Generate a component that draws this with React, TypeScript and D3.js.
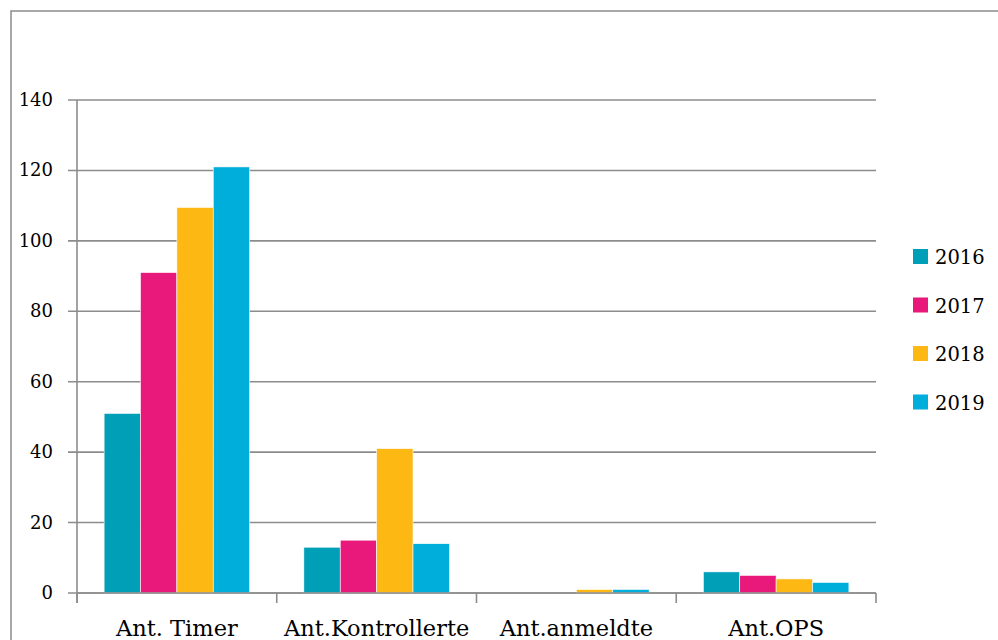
import React, { useEffect, useRef } from 'react';
import * as d3 from 'd3';

const categories = ['Ant. Timer', 'Ant.Kontrollerte', 'Ant.anmeldte', 'Ant.OPS'];
const years = ['2016', '2017', '2018', '2019'];
const values2016 = [51, 13, 0, 6];
const values2017 = [91, 15, 0, 5];
const values2018 = [109.5, 41, 1, 4];
const values2019 = [121, 14, 1, 3];
const colors = ['#009fb8', '#e8197a', '#fdb813', '#00aedb'];
const yTicks = [0, 20, 40, 60, 80, 100, 120, 140];

export default function App() {
  const svgRef = useRef<SVGSVGElement>(null);

  useEffect(() => {
    if (!svgRef.current) return;
    const svg = d3.select(svgRef.current);
    svg.selectAll('*').remove();

    const series = [values2016, values2017, values2018, values2019];
    const font = "'DejaVu Serif', 'Liberation Serif', serif";

    const left = 77, right = 876, top = 100, bottom = 593;

    svg.append('rect')
      .attr('x', 11).attr('y', 11).attr('width', 1000).attr('height', 700)
      .attr('fill', 'white').attr('stroke', '#8c8c8c').attr('stroke-width', 1.5);

    const x = d3.scaleBand().domain(categories).range([left, right]).paddingInner(0).paddingOuter(0);
    const y = d3.scaleLinear().domain([0, 140]).range([bottom, top]);
    const inner = d3.scaleBand().domain(years).range([0, x.bandwidth()]).paddingInner(0).paddingOuter(0.745);

    const g = svg.append('g');

    // gridlines
    g.selectAll('line.grid')
      .data(yTicks)
      .enter()
      .append('line')
      .attr('x1', left - 9).attr('x2', right)
      .attr('y1', d => y(d)).attr('y2', d => y(d))
      .attr('stroke', '#8c8c8c').attr('stroke-width', 1.6);

    g.selectAll('text.ylab')
      .data(yTicks)
      .enter()
      .append('text')
      .attr('x', 53)
      .attr('y', d => y(d) + 6)
      .attr('text-anchor', 'end')
      .style('font-family', font)
      .style('font-size', '18px')
      .text(d => d);

    // bars
    series.forEach((vals, si) => {
      g.selectAll(`rect.s${si}`)
        .data(vals)
        .enter()
        .append('rect')
        .attr('x', (d, i) => x(categories[i])! + inner(years[si])!)
        .attr('y', d => y(d))
        .attr('width', inner.bandwidth())
        .attr('height', d => bottom - y(d))
        .attr('fill', colors[si])
        .attr('stroke', 'white')
        .attr('stroke-width', 0.6);
    });

    // y axis line
    g.append('line')
      .attr('x1', left).attr('x2', left).attr('y1', top).attr('y2', bottom + 10)
      .attr('stroke', '#8c8c8c').attr('stroke-width', 1.6);

    // x axis
    g.append('line')
      .attr('x1', left).attr('x2', right).attr('y1', bottom).attr('y2', bottom)
      .attr('stroke', '#8c8c8c').attr('stroke-width', 1.6);
    const edges = categories.map(c => x(c)!).concat([right]);
    g.selectAll('line.xt')
      .data(edges)
      .enter()
      .append('line')
      .attr('x1', d => d).attr('x2', d => d).attr('y1', bottom).attr('y2', bottom + 10)
      .attr('stroke', '#8c8c8c').attr('stroke-width', 1.6);

    g.selectAll('text.xlab')
      .data(categories)
      .enter()
      .append('text')
      .attr('x', d => x(d)! + x.bandwidth() / 2)
      .attr('y', 636)
      .attr('text-anchor', 'middle')
      .style('font-family', font)
      .style('font-size', '22.5px')
      .text(d => d);

    // legend
    const lg = svg.append('g');
    years.forEach((yr, i) => {
      const ly = 257 + i * 48.5;
      lg.append('rect')
        .attr('x', 913).attr('y', ly - 8).attr('width', 15).attr('height', 15)
        .attr('fill', colors[i]);
      lg.append('text')
        .attr('x', 935).attr('y', ly + 7)
        .style('font-family', font)
        .style('font-size', '19.5px')
        .text(yr);
    });
  }, []);

  return (
    <svg
      ref={svgRef}
      width={998}
      height={640}
      style={{ position: 'absolute', left: 0, top: 0, background: 'white' }}
    />
  );
}
